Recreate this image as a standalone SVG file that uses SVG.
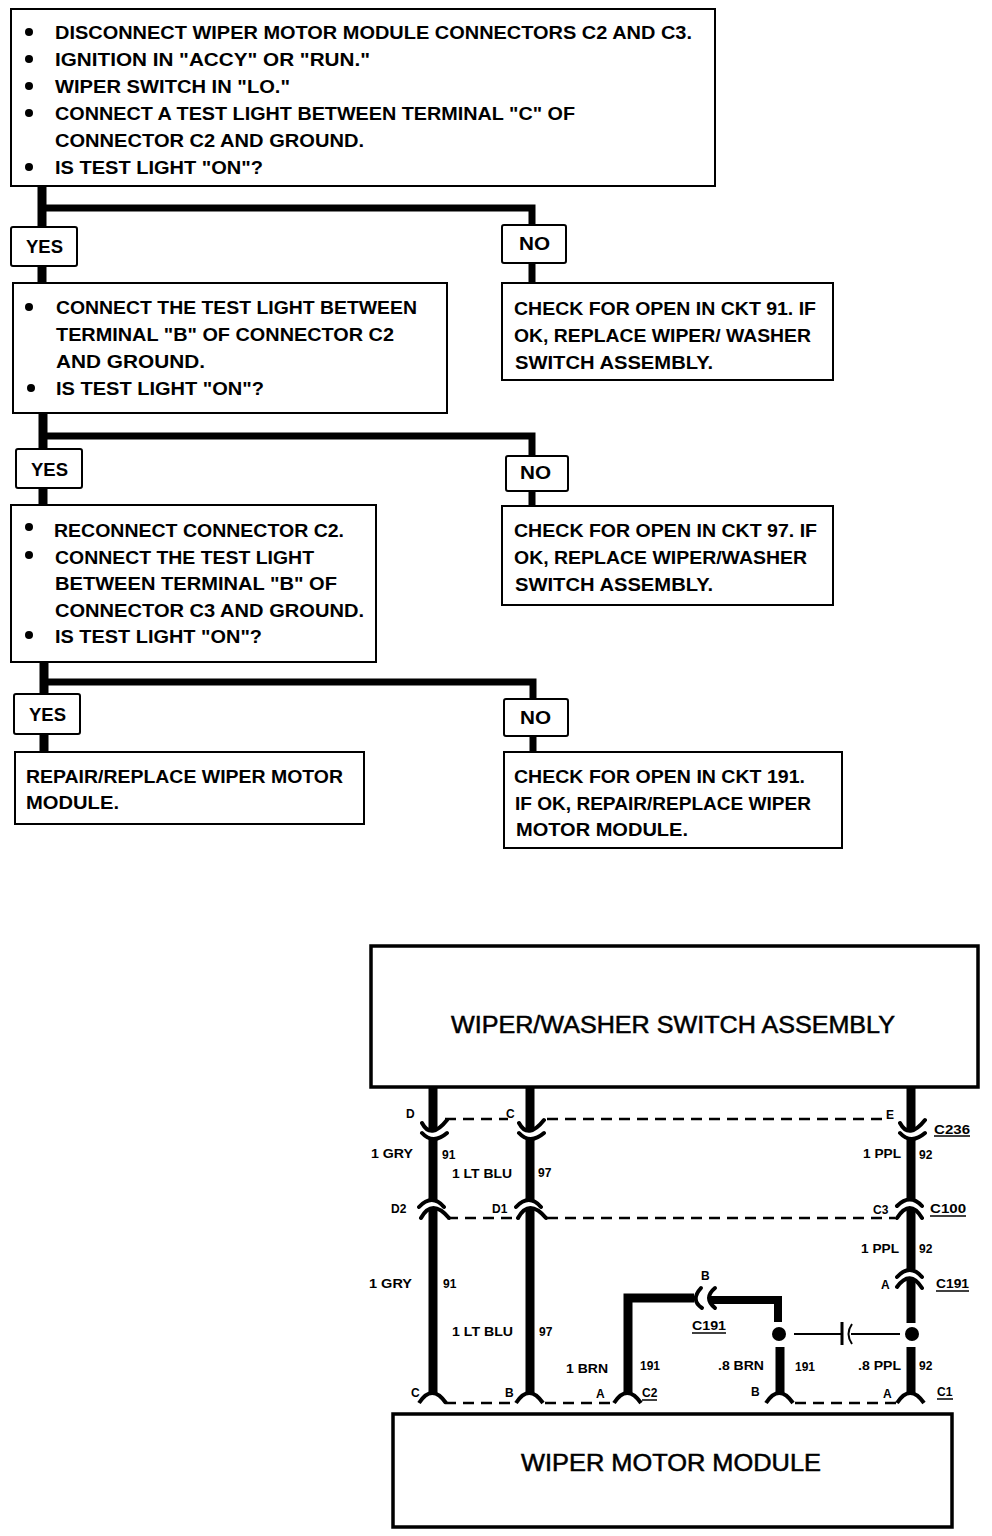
<svg xmlns="http://www.w3.org/2000/svg" width="992" height="1536" viewBox="0 0 992 1536">
<style>
.b{fill:#fff;stroke:#000;stroke-width:2}
.h{fill:#fff;stroke:#000;stroke-width:3.5}
text{font-family:"Liberation Sans",Arial,sans-serif;fill:#000}
.t{font-size:19px;font-weight:bold}
.m{font-size:23px;stroke:#000;stroke-width:.5}
.l{font-size:12px;font-weight:bold}
.w{fill:none;stroke:#000;stroke-width:9}
.n{fill:none;stroke:#000;stroke-width:7}
.c{fill:none;stroke:#000;stroke-width:4}
.d{fill:none;stroke:#000;stroke-width:2.5;stroke-dasharray:11 7}
.f{fill:none;stroke:#000;stroke-width:2}
.u{stroke:#000;stroke-width:1.5}
</style>
<rect width="992" height="1536" fill="#fff"/>
<g id="connectors">
<path class="w" d="M42 186V283M43 413V505M44 662V752"/>
<path class="n" d="M42 208H532V283M43 436H532V506M44 682H533V752"/>
<path class="d" d="M445 1119H508M547 1119H885M447 1218H520M547 1218H895M445 1403H515M545 1403H613M795 1403H900"/>
<path class="w" d="M433 1088V1130M433 1137V1201M433 1208V1394M530 1088V1130M530 1137V1201M530 1208V1394M911 1088V1130M911 1137V1201M911 1208V1269M911 1279V1323M911 1347V1394M780 1347V1394"/>
<path class="w" d="M628 1394V1298H694"/>
<path class="c" stroke-linecap="round" d="M422 1123Q431 1140 447 1120M422 1133Q433 1145 447 1133M519 1123Q528 1140 544 1120M519 1133Q530 1145 544 1133M900 1123Q909 1140 925 1120M900 1133Q911 1145 925 1133"/>
<path class="c" stroke-linecap="round" d="M419 1207Q432 1193 444 1207M421 1218Q432 1198 449 1218M516 1207Q529 1193 541 1207M518 1218Q529 1198 546 1218M897 1206Q910 1193 922 1206M897 1218Q910 1198 922 1218M897 1277Q910 1263 922 1277M897 1287Q910 1269 922 1288"/>
<path class="c" d="M419 1403Q432 1383 446 1403M516 1403Q529 1383 543 1403M614 1403Q627 1383 641 1403M766 1403Q779 1383 793 1403M897 1403Q910 1383 924 1403"/>
<path class="c" stroke-linecap="round" d="M701 1288Q690 1300 702 1308M715 1288Q703 1298 715 1308"/>
<path fill="none" stroke="#000" stroke-width="8" d="M710 1300H778V1322"/>
<circle cx="779" cy="1334" r="7"/>
<circle cx="912" cy="1334" r="7"/>
<path class="f" d="M794 1334H841M851 1334H900"/>
<path fill="none" stroke="#000" stroke-width="3" d="M842 1322V1345"/>
<path class="f" d="M852 1324Q845 1334 852 1344"/>
</g>
<g id="q1"><rect class="b" x="11" y="9" width="704" height="177"/>
<circle cx="29" cy="32" r="4"/><text class="t" x="55" y="39" textLength="637" lengthAdjust="spacingAndGlyphs">DISCONNECT WIPER MOTOR MODULE CONNECTORS C2 AND C3.</text>
<circle cx="29" cy="59" r="4"/><text class="t" x="55" y="66" textLength="315" lengthAdjust="spacingAndGlyphs">IGNITION IN "ACCY" OR "RUN."</text>
<circle cx="29" cy="86" r="4"/><text class="t" x="55" y="93" textLength="235" lengthAdjust="spacingAndGlyphs">WIPER SWITCH IN "LO."</text>
<circle cx="29" cy="113" r="4"/><text class="t" x="55" y="120" textLength="520" lengthAdjust="spacingAndGlyphs">CONNECT A TEST LIGHT BETWEEN TERMINAL "C" OF</text>
<text class="t" x="55" y="147" textLength="309" lengthAdjust="spacingAndGlyphs">CONNECTOR C2 AND GROUND.</text>
<circle cx="29" cy="167" r="4"/><text class="t" x="55" y="174" textLength="208" lengthAdjust="spacingAndGlyphs">IS TEST LIGHT "ON"?</text></g>
<g id="yes1"><rect class="b" x="11" y="227" width="66" height="39" rx="2"/><text class="t" x="26" y="253" textLength="37" lengthAdjust="spacingAndGlyphs">YES</text></g>
<g id="no1"><rect class="b" x="502" y="225" width="64" height="38" rx="2"/><text class="t" x="519" y="250" textLength="31" lengthAdjust="spacingAndGlyphs">NO</text></g>
<g id="q2"><rect class="b" x="13" y="283" width="434" height="130"/>
<circle cx="29" cy="307" r="4"/><text class="t" x="56" y="314" textLength="361" lengthAdjust="spacingAndGlyphs">CONNECT THE TEST LIGHT BETWEEN</text>
<text class="t" x="56" y="341" textLength="338" lengthAdjust="spacingAndGlyphs">TERMINAL "B" OF CONNECTOR C2</text>
<text class="t" x="56" y="368" textLength="149" lengthAdjust="spacingAndGlyphs">AND GROUND.</text>
<circle cx="31" cy="388" r="4"/><text class="t" x="56" y="395" textLength="208" lengthAdjust="spacingAndGlyphs">IS TEST LIGHT "ON"?</text></g>
<g id="a1"><rect class="b" x="502" y="283" width="331" height="97"/>
<text class="t" x="514" y="315" textLength="302" lengthAdjust="spacingAndGlyphs">CHECK FOR OPEN IN CKT 91. IF</text>
<text class="t" x="514" y="342" textLength="297" lengthAdjust="spacingAndGlyphs">OK, REPLACE WIPER/ WASHER</text>
<text class="t" x="515" y="369" textLength="198" lengthAdjust="spacingAndGlyphs">SWITCH ASSEMBLY.</text></g>
<g id="yes2"><rect class="b" x="16" y="449" width="66" height="39" rx="2"/><text class="t" x="31" y="476" textLength="37" lengthAdjust="spacingAndGlyphs">YES</text></g>
<g id="no2"><rect class="b" x="506" y="456" width="62" height="35" rx="2"/><text class="t" x="520" y="479" textLength="31" lengthAdjust="spacingAndGlyphs">NO</text></g>
<g id="q3"><rect class="b" x="11" y="505" width="365" height="157"/>
<circle cx="29" cy="527" r="4"/><text class="t" x="54" y="537" textLength="290" lengthAdjust="spacingAndGlyphs">RECONNECT CONNECTOR C2.</text>
<circle cx="29" cy="555" r="4"/><text class="t" x="55" y="564" textLength="259" lengthAdjust="spacingAndGlyphs">CONNECT THE TEST LIGHT</text>
<text class="t" x="55" y="590" textLength="282" lengthAdjust="spacingAndGlyphs">BETWEEN TERMINAL "B" OF</text>
<text class="t" x="55" y="617" textLength="309" lengthAdjust="spacingAndGlyphs">CONNECTOR C3 AND GROUND.</text>
<circle cx="29" cy="635" r="4"/><text class="t" x="55" y="643" textLength="207" lengthAdjust="spacingAndGlyphs">IS TEST LIGHT "ON"?</text></g>
<g id="a2"><rect class="b" x="502" y="506" width="331" height="99"/>
<text class="t" x="514" y="537" textLength="303" lengthAdjust="spacingAndGlyphs">CHECK FOR OPEN IN CKT 97. IF</text>
<text class="t" x="514" y="564" textLength="293" lengthAdjust="spacingAndGlyphs">OK, REPLACE WIPER/WASHER</text>
<text class="t" x="515" y="591" textLength="198" lengthAdjust="spacingAndGlyphs">SWITCH ASSEMBLY.</text></g>
<g id="yes3"><rect class="b" x="14" y="694" width="66" height="40" rx="2"/><text class="t" x="29" y="721" textLength="37" lengthAdjust="spacingAndGlyphs">YES</text></g>
<g id="no3"><rect class="b" x="504" y="699" width="64" height="37" rx="2"/><text class="t" x="520" y="724" textLength="31" lengthAdjust="spacingAndGlyphs">NO</text></g>
<g id="a3"><rect class="b" x="15" y="752" width="349" height="72"/>
<text class="t" x="26" y="783" textLength="317" lengthAdjust="spacingAndGlyphs">REPAIR/REPLACE WIPER MOTOR</text>
<text class="t" x="26" y="809" textLength="93" lengthAdjust="spacingAndGlyphs">MODULE.</text></g>
<g id="a4"><rect class="b" x="504" y="752" width="338" height="96"/>
<text class="t" x="514" y="783" textLength="291" lengthAdjust="spacingAndGlyphs">CHECK FOR OPEN IN CKT 191.</text>
<text class="t" x="515" y="810" textLength="296" lengthAdjust="spacingAndGlyphs">IF OK, REPAIR/REPLACE WIPER</text>
<text class="t" x="516" y="836" textLength="172" lengthAdjust="spacingAndGlyphs">MOTOR MODULE.</text></g>
<g id="switch"><rect class="h" x="371" y="946" width="607" height="141"/><text class="m" x="451" y="1033" textLength="444" lengthAdjust="spacingAndGlyphs">WIPER/WASHER SWITCH ASSEMBLY</text></g>
<g id="module"><rect class="h" x="393" y="1414" width="559" height="113"/><text class="m" x="521" y="1471" textLength="300" lengthAdjust="spacingAndGlyphs">WIPER MOTOR MODULE</text></g>
<g id="labels">
<text class="l" x="406" y="1118">D</text><text class="l" x="506" y="1118">C</text><text class="l" x="886" y="1119">E</text>
<text class="l" x="934" y="1134" textLength="36" lengthAdjust="spacingAndGlyphs">C236</text><path class="u" d="M934 1136H970"/>
<text class="l" x="371" y="1158" textLength="42" lengthAdjust="spacingAndGlyphs">1 GRY</text><text class="l" x="442" y="1159">91</text>
<text class="l" x="452" y="1178" textLength="60" lengthAdjust="spacingAndGlyphs">1 LT BLU</text><text class="l" x="538" y="1177">97</text>
<text class="l" x="863" y="1158" textLength="38" lengthAdjust="spacingAndGlyphs">1 PPL</text><text class="l" x="919" y="1159">92</text>
<text class="l" x="391" y="1213">D2</text><text class="l" x="492" y="1213">D1</text><text class="l" x="873" y="1214">C3</text>
<text class="l" x="930" y="1213" textLength="36" lengthAdjust="spacingAndGlyphs">C100</text><path class="u" d="M930 1216H966"/>
<text class="l" x="861" y="1253" textLength="38" lengthAdjust="spacingAndGlyphs">1 PPL</text><text class="l" x="919" y="1253">92</text>
<text class="l" x="881" y="1289">A</text>
<text class="l" x="936" y="1288" textLength="33" lengthAdjust="spacingAndGlyphs">C191</text><path class="u" d="M936 1291H969"/>
<text class="l" x="369" y="1288" textLength="43" lengthAdjust="spacingAndGlyphs">1 GRY</text><text class="l" x="443" y="1288">91</text>
<text class="l" x="452" y="1336" textLength="61" lengthAdjust="spacingAndGlyphs">1 LT BLU</text><text class="l" x="539" y="1336">97</text>
<text class="l" x="701" y="1280">B</text>
<text class="l" x="692" y="1330" textLength="34" lengthAdjust="spacingAndGlyphs">C191</text><path class="u" d="M692 1333H726"/>
<text class="l" x="566" y="1373" textLength="42" lengthAdjust="spacingAndGlyphs">1 BRN</text><text class="l" x="640" y="1370">191</text>
<text class="l" x="718" y="1370" textLength="46" lengthAdjust="spacingAndGlyphs">.8 BRN</text><text class="l" x="795" y="1371">191</text>
<text class="l" x="858" y="1370" textLength="43" lengthAdjust="spacingAndGlyphs">.8 PPL</text><text class="l" x="919" y="1370">92</text>
<text class="l" x="411" y="1397">C</text><text class="l" x="505" y="1397">B</text><text class="l" x="596" y="1398">A</text>
<text class="l" x="642" y="1397">C2</text><path class="u" d="M642 1400H657"/>
<text class="l" x="751" y="1396">B</text><text class="l" x="883" y="1398">A</text>
<text class="l" x="937" y="1396">C1</text><path class="u" d="M937 1399H953"/>
</g>
</svg>
